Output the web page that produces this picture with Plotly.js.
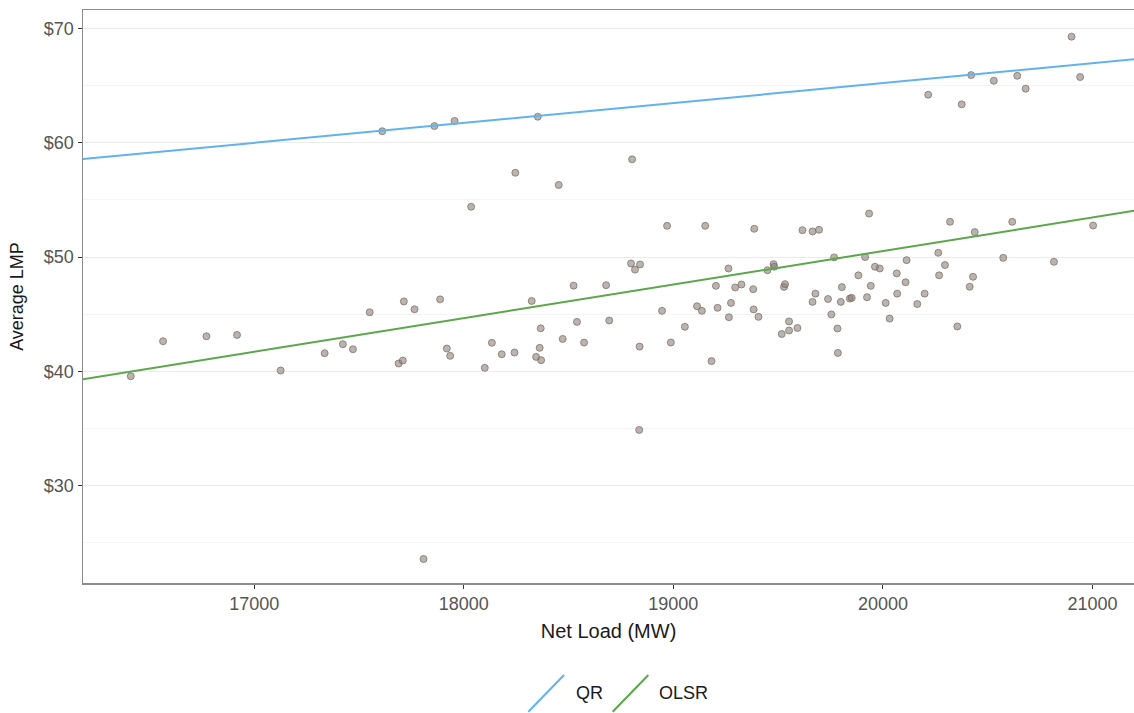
<!DOCTYPE html>
<html>
<head>
<meta charset="utf-8">
<script src="https://cdn.plot.ly/plotly-3.0.1.min.js"></script>
<style>
html,body{margin:0;padding:0;background:#fff;}
#chart{width:1134px;height:713px;}
</style>
</head>
<body>
<div id="chart"></div>
<script>
// Observed points: Net Load (MW) vs Average LMP ($)
const netLoad = [16411,16565,16772,16918,17126,17336,17423,17471,17551,17611,17689,17709,17714,17765,17808,17860,17887,17919,17935,17956,18035,18100,18134,18181,18242,18246,18324,18345,18353,18362,18367,18369,18453,18472,18524,18540,18574,18679,18694,18798,18803,18817,18837,18839,18841,18946,18970,18988,19055,19113,19136,19152,19182,19203,19211,19263,19265,19275,19295,19325,19381,19383,19386,19406,19449,19478,19481,19517,19528,19533,19552,19552,19592,19616,19664,19664,19678,19695,19738,19754,19767,19783,19785,19799,19804,19842,19851,19883,19915,19924,19934,19942,19962,19985,20013,20032,20066,20068,20108,20113,20164,20199,20216,20264,20268,20296,20320,20355,20376,20414,20421,20430,20438,20529,20574,20617,20641,20681,20816,20900,20941,21003];
const avgLMP = [39.58,42.64,43.07,43.19,40.08,41.59,42.38,41.94,45.17,61.0,40.69,40.95,46.12,45.43,23.6,61.45,46.3,42.0,41.36,61.9,54.4,40.31,42.5,41.5,41.65,57.37,46.16,41.27,62.27,42.06,43.77,40.98,56.3,42.84,47.5,44.33,42.52,47.54,44.45,49.44,58.54,48.9,34.88,42.17,49.35,45.3,52.73,42.53,43.9,45.7,45.3,52.73,40.9,47.48,45.56,49.0,44.74,45.99,47.34,47.6,47.19,45.42,52.47,44.77,48.85,49.38,49.15,43.27,47.39,47.63,44.37,43.58,43.8,52.35,52.24,46.08,46.8,52.38,46.33,44.98,49.97,43.75,41.62,46.08,47.37,46.37,46.43,48.4,50.0,46.49,53.8,47.48,49.15,49.0,45.99,44.62,48.57,46.8,47.8,49.73,45.89,46.8,64.19,50.37,48.4,49.3,53.08,43.93,63.35,47.4,65.91,48.27,52.18,65.42,49.93,53.08,65.85,64.72,49.58,69.27,65.74,52.76];

// Fitted lines (endpoints)
const fitX = [16100, 21300];
const qrY = [58.42, 67.47];
const olsrY = [39.08, 54.34];
const lineNames = ['QR', 'OLSR'];
const lineColors = ['#62b2ee', '#5aa84a'];

// Axis ticks
const xTicks = [17000, 18000, 19000, 20000, 21000];
const yTicks = [30, 40, 50, 60, 70];
const yTickLabels = ['$30', '$40', '$50', '$60', '$70'];

const FONT = 'Liberation Sans, Arial, sans-serif';

const traces = [
  {
    x: netLoad, y: avgLMP, type: 'scatter', mode: 'markers', showlegend: false,
    marker: {size: 7, color: 'rgba(138,124,116,0.58)', line: {width: 1, color: 'rgba(118,105,98,0.7)'}},
    hoverinfo: 'x+y'
  },
  {
    x: fitX, y: qrY, type: 'scatter', mode: 'lines', name: lineNames[0], showlegend: false,
    line: {color: lineColors[0], width: 2}
  },
  {
    x: fitX, y: olsrY, type: 'scatter', mode: 'lines', name: lineNames[1], showlegend: false,
    line: {color: lineColors[1], width: 2}
  }
];

// Legend drawn in paper coordinates with diagonal keys (ggplot abline style)
const legendKeyX = [[0.4237, 0.4577], [0.5040, 0.5379]];
const legendTextX = [0.4671, 0.5461];
const shapes = lineNames.map((n, i) => ({
  type: 'line', xref: 'paper', yref: 'paper',
  x0: legendKeyX[i][0], x1: legendKeyX[i][1], y0: -0.2246, y1: -0.1606,
  line: {color: lineColors[i], width: 2}
}));
const annotations = lineNames.map((n, i) => ({
  xref: 'paper', yref: 'paper', x: legendTextX[i], y: -0.1925,
  xanchor: 'left', yanchor: 'middle', showarrow: false, text: n,
  font: {family: FONT, size: 18, color: '#1a1a1a'}
}));

const layout = {
  width: 1134, height: 713,
  margin: {l: 83, r: 0, t: 10, b: 130, pad: 0},
  paper_bgcolor: '#ffffff', plot_bgcolor: '#ffffff',
  font: {family: FONT, color: '#4d4d4d'},
  showlegend: false,
  shapes: shapes,
  annotations: annotations,
  xaxis: {
    range: [16183, 21198], tickvals: xTicks, ticktext: xTicks.map(String),
    showgrid: false, zeroline: false,
    showline: true, mirror: true, linecolor: '#8c8c8c', linewidth: 1.5,
    ticks: 'outside', ticklen: 4, tickwidth: 1, tickcolor: '#333333',
    tickfont: {family: FONT, size: 18, color: '#555555'},
    title: {text: 'Net Load (MW)', font: {family: FONT, size: 20, color: '#1a1a1a'}, standoff: 11}
  },
  yaxis: {
    range: [21.5, 71.6], tickvals: yTicks, ticktext: yTickLabels,
    showgrid: true, gridcolor: '#ebebeb', gridwidth: 1, zeroline: false,
    minor: {tickvals: [25, 35, 45, 55, 65], showgrid: true, gridcolor: '#f4f4f4', gridwidth: 1, ticks: ''},
    showline: true, mirror: false, linecolor: '#8c8c8c', linewidth: 1.5,
    ticks: 'outside', ticklen: 4, tickwidth: 1, tickcolor: '#333333',
    tickfont: {family: FONT, size: 18, color: '#555555'},
    title: {text: 'Average LMP', font: {family: FONT, size: 18, color: '#1a1a1a'}, standoff: 15}
  }
};

Plotly.newPlot('chart', traces, layout, {staticPlot: true, displayModeBar: false});
</script>
</body>
</html>
